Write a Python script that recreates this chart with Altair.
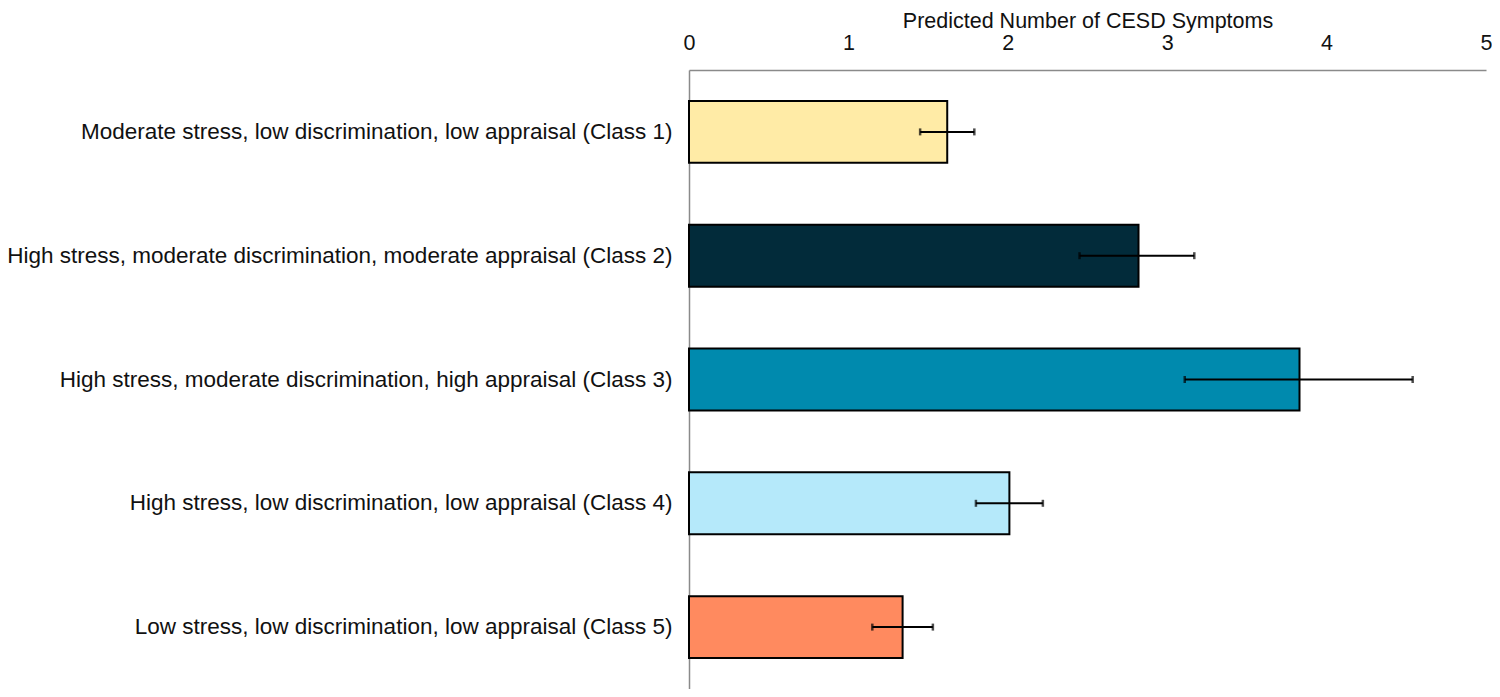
import altair as alt
import pandas as pd

categories = [
    "Moderate stress, low discrimination, low appraisal (Class 1)",
    "High stress, moderate discrimination, moderate appraisal (Class 2)",
    "High stress, moderate discrimination, high appraisal (Class 3)",
    "High stress, low discrimination, low appraisal (Class 4)",
    "Low stress, low discrimination, low appraisal (Class 5)",
]
values = [1.62, 2.82, 3.83, 2.01, 1.34]
lower = [1.45, 2.45, 3.11, 1.80, 1.15]
upper = [1.79, 3.17, 4.54, 2.22, 1.53]
colors = ["#FFEBA6", "#022B3A", "#008AAE", "#B5E9FA", "#FF8A5F"]

df = pd.DataFrame({"cat": categories, "value": values, "lo": lower, "hi": upper})

y = alt.Y("cat:N", sort=categories, title=None,
          scale=alt.Scale(paddingInner=0.5, paddingOuter=0.25),
          axis=alt.Axis(ticks=False, domainColor="#8a8a8a", domainWidth=1.5,
                        labelFont="Liberation Sans", labelFontSize=22.5,
                        labelColor="#111", labelPadding=17, labelLimit=800))
x = alt.X("value:Q", title="Predicted Number of CESD Symptoms",
          scale=alt.Scale(domain=[0, 5], nice=False),
          axis=alt.Axis(orient="top", values=[0, 1, 2, 3, 4, 5], format="d",
                        ticks=False, grid=False, domainColor="#8a8a8a", domainWidth=1.5,
                        labelFont="Liberation Sans", labelFontSize=21.5, labelColor="#111",
                        labelPadding=16, labelFlush=False, labelOverlap=False,
                        titleFont="Liberation Sans", titleFontSize=21.5,
                        titleFontWeight="normal", titleColor="#111",
                        titleBaseline="alphabetic", titleY=-43))

bars = alt.Chart(df).mark_bar(stroke="black", strokeWidth=2).encode(
    y=y, x=x,
    color=alt.Color("cat:N", scale=alt.Scale(domain=categories, range=colors), legend=None),
)
err = alt.Chart(df).mark_rule(color="black", strokeWidth=2).encode(
    y=alt.Y("cat:N", sort=categories), x="lo:Q", x2="hi:Q")
cap_lo = alt.Chart(df).mark_tick(color="black", thickness=2.5, size=7).encode(
    y=alt.Y("cat:N", sort=categories), x="lo:Q")
cap_hi = alt.Chart(df).mark_tick(color="black", thickness=2.5, size=7).encode(
    y=alt.Y("cat:N", sort=categories), x="hi:Q")

chart = alt.layer(bars, err, cap_lo, cap_hi).properties(
    width=797, height=619,
    autosize=alt.AutoSizeParams(type="none"),
    padding={"left": 681, "top": 62, "right": 6, "bottom": 0},
).configure(background="white", view=alt.ViewConfig(stroke=None))

chart.save("out.html", embed_options={"renderer": "svg", "actions": False})
